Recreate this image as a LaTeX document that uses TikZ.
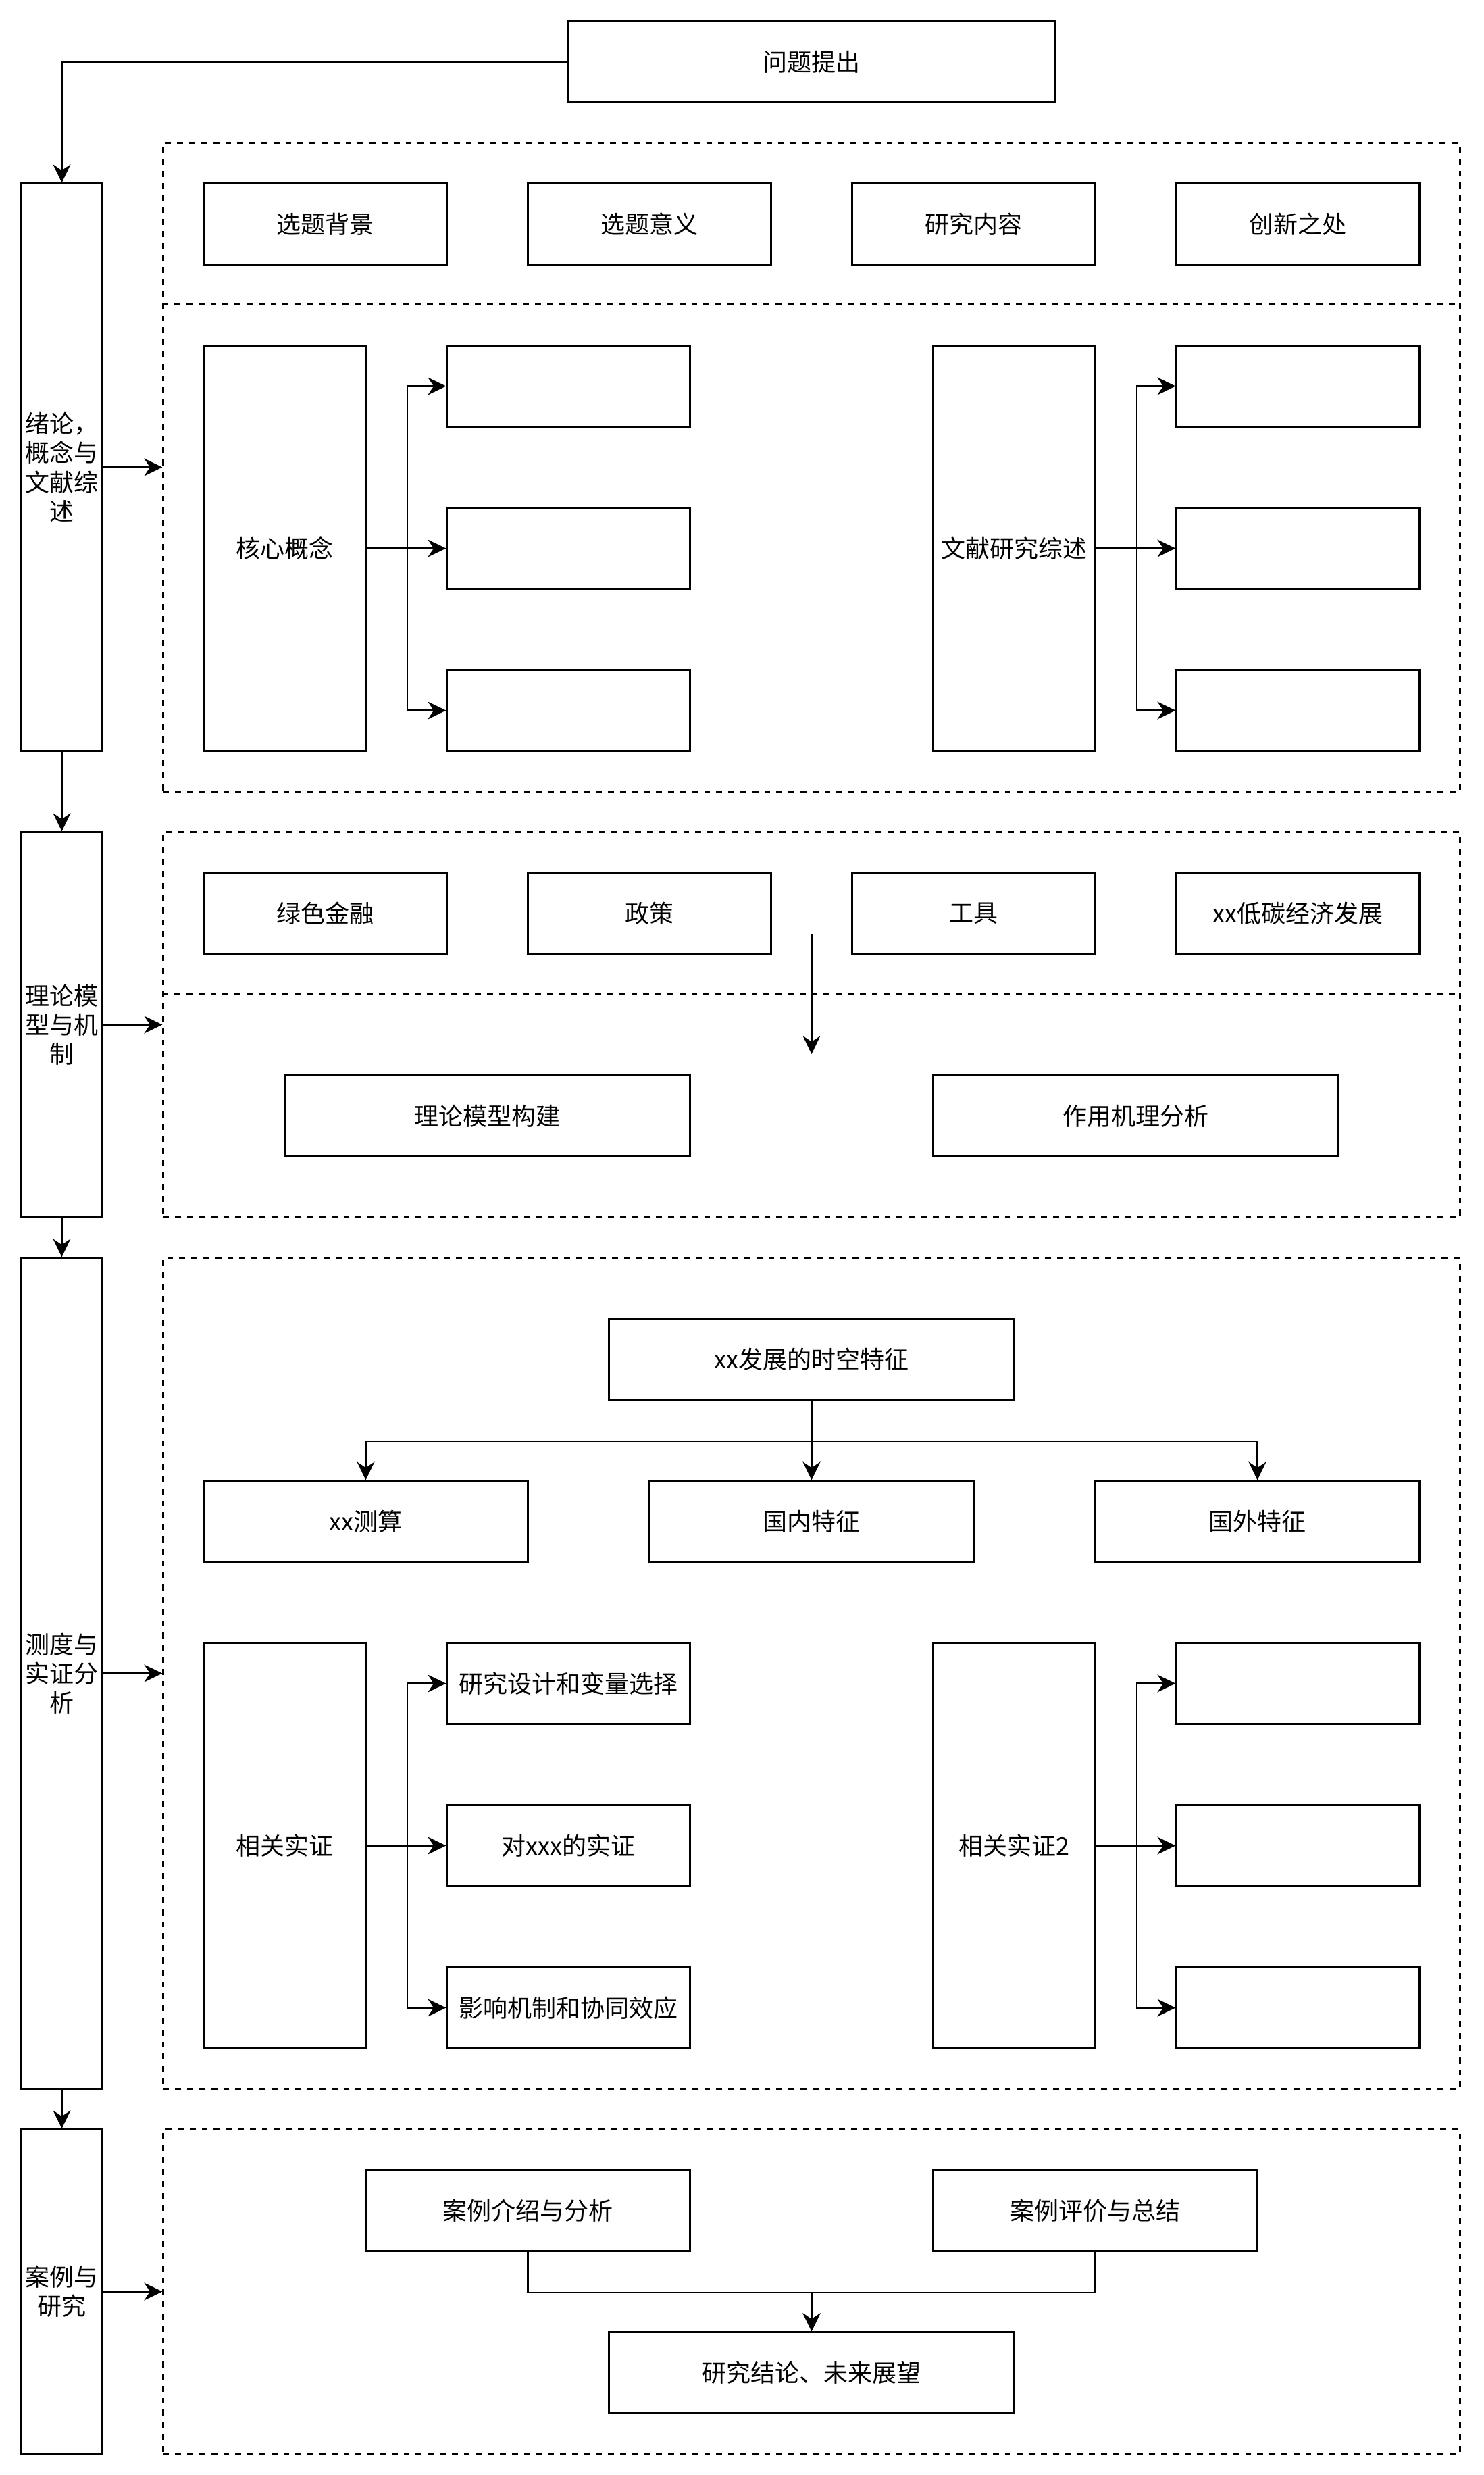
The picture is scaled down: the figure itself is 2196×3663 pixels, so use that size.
\documentclass[tikz,border=0pt]{standalone}
\usepackage{fontspec}
\setmainfont{Noto Sans CJK SC}
\usetikzlibrary{arrows.meta}

\begin{document}
\begin{tikzpicture}
[x=0.25pt,y=-0.25pt,line width=0.575pt,font=\fontsize{9}{10.8}\selectfont,
 >={Stealth[length=6.75pt,width=6.5pt]}]
\tikzstyle{plain box}=[rectangle,draw,inner sep=0,align=center,minimum width=90pt,minimum height=30pt]
\tikzstyle{side box}=[plain box,minimum width=30pt]
\tikzstyle{tall box}=[plain box,minimum width=60pt,minimum height=150pt]
\tikzstyle{dash frame}=[draw,dash pattern=on 2.2pt off 2.25pt,inner sep=0,minimum width=480pt]
\tikzstyle{dash line}=[dash pattern=on 2.2pt off 2.25pt]

\useasboundingbox (0,0) rectangle (2196,3663);

% left column
\node(q)[plain box,minimum width=180pt] at (1201.5,91.5) {问题提出};
\node(l1)[side box,minimum height=210pt] at (91.5,691.5) {绪论，\\概念与\\文献综\\述};
\node(l2)[side box,minimum height=142.5pt] at (91.5,1516.5) {理论模\\型与机\\制};
\node(l3)[side box,minimum height=307.5pt] at (91.5,2476.5) {测度与\\实证分\\析};
\node(l4)[side box,minimum height=120pt] at (91.5,3391.5) {案例与\\研究};

% frames
\node(d1)[dash frame,minimum height=240pt] at (1201.5,691.5) {};
\node(d2)[dash frame,minimum height=142.5pt] at (1201.5,1516.5) {};
\node(d3)[dash frame,minimum height=307.5pt] at (1201.5,2476.5) {};
\node(d4)[dash frame,minimum height=120pt] at (1201.5,3391.5) {};
\draw[dash line]([yshift=-60pt]d1.north west)--([yshift=-60pt]d1.north east);
\draw[dash line]([yshift=-60pt]d2.north west)--([yshift=-60pt]d2.north east);

% part 1
\node(p1)[plain box] at (481.5,331.5) {选题背景};
\node(p2)[plain box] at (961.5,331.5) {选题意义};
\node(p3)[plain box] at (1441.5,331.5) {研究内容};
\node(p4)[plain box] at (1921.5,331.5) {创新之处};
\node(k1)[tall box] at (421.5,811.5) {核心概念};
\node(k2)[tall box] at (1501.5,811.5) {文献研究综述};
\node(a1)[plain box] at (841.5,571.5) {};
\node(a2)[plain box] at (841.5,811.5) {};
\node(a3)[plain box] at (841.5,1051.5) {};
\node(b1)[plain box] at (1921.5,571.5) {};
\node(b2)[plain box] at (1921.5,811.5) {};
\node(b3)[plain box] at (1921.5,1051.5) {};

% part 2
\node(g1)[plain box] at (481.5,1351.5) {绿色金融};
\node(g2)[plain box] at (961.5,1351.5) {政策};
\node(g3)[plain box] at (1441.5,1351.5) {工具};
\node(g4)[plain box] at (1921.5,1351.5) {xx低碳经济发展};
\node(h1)[plain box,minimum width=150pt] at (721.5,1651.5) {理论模型构建};
\node(h2)[plain box,minimum width=150pt] at (1681.5,1651.5) {作用机理分析};
\coordinate(t1) at (1201.5,1381.5);
\coordinate(t2) at (1201.5,1560);

% part 3
\node(x0)[plain box,minimum width=150pt] at (1201.5,2011.5) {xx发展的时空特征};
\node(m1)[plain box,minimum width=120pt] at (541.5,2251.5) {xx测算};
\node(m2)[plain box,minimum width=120pt] at (1201.5,2251.5) {国内特征};
\node(m3)[plain box,minimum width=120pt] at (1861.5,2251.5) {国外特征};
\node(k3)[tall box] at (421.5,2731.5) {相关实证};
\node(k4)[tall box] at (1501.5,2731.5) {相关实证2};
\node(e1)[plain box] at (841.5,2491.5) {研究设计和变量选择};
\node(e2)[plain box] at (841.5,2731.5) {对xxx的实证};
\node(e3)[plain box] at (841.5,2971.5) {影响机制和协同效应};
\node(f1)[plain box] at (1921.5,2491.5) {};
\node(f2)[plain box] at (1921.5,2731.5) {};
\node(f3)[plain box] at (1921.5,2971.5) {};

% part 4
\node(c1)[plain box,minimum width=120pt] at (781.5,3271.5) {案例介绍与分析};
\node(c2)[plain box,minimum width=120pt] at (1621.5,3271.5) {案例评价与总结};
\node(r)[plain box,minimum width=150pt] at (1201.5,3511.5) {研究结论、未来展望};

% arrows
\draw[->](q.west)-|(l1.north);
\draw[->](l1)--(l2);
\draw[->](l2)--(l3);
\draw[->](l3)--(l4);
\draw[->](l1)--(d1);
\draw[->](l2)--(d2);
\draw[->](l3)--(d3);
\draw[->](l4)--(d4);

\foreach \i in {1,2,3}{
  \draw[->](k1.east)--++(60,0)|-(a\i.west);
  \draw[->](k2.east)--++(60,0)|-(b\i.west);
  \draw[->](k3.east)--++(60,0)|-(e\i.west);
  \draw[->](k4.east)--++(60,0)|-(f\i.west);
}

\draw[->,line width=0.5pt](t1)--(t2);

\draw[->](x0.south)--++(0,60)-|(m1.north);
\draw[->](x0)--(m2);
\draw[->](x0.south)--++(0,60)-|(m3.north);

\draw[->](c1.south)--++(0,60)-|(r.north);
\draw[->](c2.south)--++(0,60)-|(r.north);
\end{tikzpicture}
\end{document}
